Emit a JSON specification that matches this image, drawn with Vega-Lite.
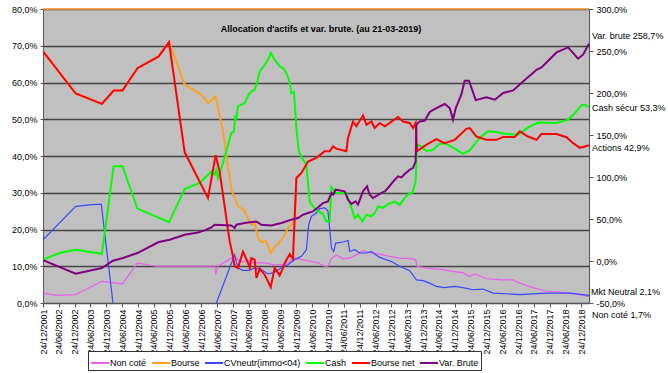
{
 "$schema": "https://vega.github.io/schema/vega-lite/v6.json",
 "width": 546, "height": 294,
 "autosize": {"type": "none"},
 "padding": {"left": 43, "top": 9, "right": 79, "bottom": 70},
 "background": "white",
 "config": {
  "view": {"fill": "#C0C0C0", "stroke": null},
  "font": "Liberation Sans",
  "axis": {"labelFont": "Liberation Sans", "labelFontSize": 9, "labelColor": "#000", "domainColor": "#555", "tickColor": "#555"},
  "text": {"font": "Liberation Sans", "fontSize": 9}
 },
 "title": {"text": "Allocation d'actifs et var. brute. (au 21-03-2019)", "font": "Liberation Sans", "fontSize": 9, "fontWeight": "bold", "color": "#000", "anchor": "middle", "frame": "group", "offset": -29, "dx": 5},
 "datasets": {
  "main": [
   {"s":"Non coté","d":"2001-12-24","v":2.7},{"s":"Non coté","d":"2002-05-27","v":2.1},{"s":"Non coté","d":"2003-01-05","v":2.3},{"s":"Non coté","d":"2003-11-03","v":5.9},{"s":"Non coté","d":"2004-06-27","v":5.2},{"s":"Non coté","d":"2004-12-17","v":10.9},{"s":"Non coté","d":"2005-07-23","v":10.0},{"s":"Non coté","d":"2006-08-11","v":10.0},{"s":"Non coté","d":"2007-05-26","v":10.0},{"s":"Non coté","d":"2007-06-07","v":7.7},{"s":"Non coté","d":"2007-07-03","v":10.0},{"s":"Non coté","d":"2007-12-05","v":12.2},{"s":"Non coté","d":"2008-01-12","v":12.4},{"s":"Non coté","d":"2008-03-30","v":11.2},{"s":"Non coté","d":"2008-06-14","v":11.5},{"s":"Non coté","d":"2008-08-30","v":10.9},{"s":"Non coté","d":"2008-12-24","v":10.9},{"s":"Non coté","d":"2009-04-17","v":10.4},{"s":"Non coté","d":"2009-08-11","v":10.4},{"s":"Non coté","d":"2009-12-04","v":12.2},{"s":"Non coté","d":"2010-02-20","v":11.8},{"s":"Non coté","d":"2010-06-15","v":11.3},{"s":"Non coté","d":"2010-08-29","v":10.9},{"s":"Non coté","d":"2010-11-15","v":10.0},{"s":"Non coté","d":"2010-12-23","v":10.0},{"s":"Non coté","d":"2011-02-01","v":12.2},{"s":"Non coté","d":"2011-03-30","v":13.0},{"s":"Non coté","d":"2011-06-14","v":12.1},{"s":"Non coté","d":"2011-08-30","v":12.2},{"s":"Non coté","d":"2011-11-15","v":13.1},{"s":"Non coté","d":"2012-01-31","v":14.2},{"s":"Non coté","d":"2012-05-07","v":13.6},{"s":"Non coté","d":"2012-08-11","v":13.3},{"s":"Non coté","d":"2012-12-04","v":12.7},{"s":"Non coté","d":"2013-03-29","v":12.2},{"s":"Non coté","d":"2013-07-23","v":12.1},{"s":"Non coté","d":"2013-09-29","v":11.8},{"s":"Non coté","d":"2013-10-15","v":10.0},{"s":"Non coté","d":"2014-02-01","v":9.5},{"s":"Non coté","d":"2014-08-11","v":9.1},{"s":"Non coté","d":"2014-12-04","v":8.6},{"s":"Non coté","d":"2015-03-29","v":8.2},{"s":"Non coté","d":"2015-06-15","v":7.2},{"s":"Non coté","d":"2015-08-11","v":7.9},{"s":"Non coté","d":"2015-12-25","v":6.6},{"s":"Non coté","d":"2016-06-16","v":6.3},{"s":"Non coté","d":"2016-10-27","v":6.3},{"s":"Non coté","d":"2017-01-12","v":5.4},{"s":"Non coté","d":"2017-06-14","v":4.2},{"s":"Non coté","d":"2017-11-16","v":3.2},{"s":"Non coté","d":"2018-04-18","v":3.0},{"s":"Non coté","d":"2018-10-28","v":2.4},{"s":"Non coté","d":"2019-03-21","v":1.7},
   {"s":"Bourse","d":"2001-12-24","v":68.5},{"s":"Bourse","d":"2003-01-05","v":57.0},{"s":"Bourse","d":"2003-11-03","v":54.2},{"s":"Bourse","d":"2004-03-17","v":57.8},{"s":"Bourse","d":"2004-06-27","v":57.8},{"s":"Bourse","d":"2004-12-17","v":63.9},{"s":"Bourse","d":"2005-08-19","v":67.1},{"s":"Bourse","d":"2005-12-16","v":71.0},{"s":"Bourse","d":"2006-06-15","v":59.4},{"s":"Bourse","d":"2006-12-24","v":56.7},{"s":"Bourse","d":"2007-03-10","v":54.4},{"s":"Bourse","d":"2007-06-07","v":56.2},{"s":"Bourse","d":"2007-08-30","v":46.7},{"s":"Bourse","d":"2007-12-05","v":30.8},{"s":"Bourse","d":"2008-01-12","v":28.6},{"s":"Bourse","d":"2008-02-19","v":26.3},{"s":"Bourse","d":"2008-04-29","v":25.2},{"s":"Bourse","d":"2008-06-14","v":23.1},{"s":"Bourse","d":"2008-07-23","v":21.3},{"s":"Bourse","d":"2008-08-30","v":21.8},{"s":"Bourse","d":"2008-10-07","v":17.7},{"s":"Bourse","d":"2008-11-15","v":16.6},{"s":"Bourse","d":"2009-01-12","v":16.8},{"s":"Bourse","d":"2009-03-03","v":13.6},{"s":"Bourse","d":"2009-04-17","v":15.4},{"s":"Bourse","d":"2009-05-25","v":16.0},{"s":"Bourse","d":"2009-07-04","v":17.2},{"s":"Bourse","d":"2009-08-11","v":18.6},{"s":"Bourse","d":"2009-09-18","v":20.4},{"s":"Bourse","d":"2009-10-27","v":21.3},{"s":"Bourse","d":"2009-11-26","v":22.2},{"s":"Bourse","d":"2009-12-24","v":34.0},{"s":"Bourse","d":"2010-02-20","v":35.4},
   {"s":"CVneutr(immo<04)","d":"2001-12-24","v":17.2},{"s":"CVneutr(immo<04)","d":"2002-07-03","v":21.8},{"s":"CVneutr(immo<04)","d":"2003-01-05","v":26.3},{"s":"CVneutr(immo<04)","d":"2003-06-15","v":26.7},{"s":"CVneutr(immo<04)","d":"2003-10-27","v":26.9},{"s":"CVneutr(immo<04)","d":"2004-06-27","v":-21.8},{"s":"CVneutr(immo<04)","d":"2005-06-24","v":-20},{"s":"CVneutr(immo<04)","d":"2006-06-24","v":-15},{"s":"CVneutr(immo<04)","d":"2007-03-10","v":-6.0},{"s":"CVneutr(immo<04)","d":"2008-01-12","v":13.1},{"s":"CVneutr(immo<04)","d":"2008-02-19","v":9.5},{"s":"CVneutr(immo<04)","d":"2008-04-17","v":8.9},{"s":"CVneutr(immo<04)","d":"2008-06-14","v":8.9},{"s":"CVneutr(immo<04)","d":"2008-08-30","v":9.5},{"s":"CVneutr(immo<04)","d":"2008-11-15","v":9.1},{"s":"CVneutr(immo<04)","d":"2009-01-31","v":7.9},{"s":"CVneutr(immo<04)","d":"2009-03-29","v":8.2},{"s":"CVneutr(immo<04)","d":"2009-07-04","v":9.5},{"s":"CVneutr(immo<04)","d":"2009-09-18","v":10.4},{"s":"CVneutr(immo<04)","d":"2009-12-04","v":11.8},{"s":"CVneutr(immo<04)","d":"2010-02-20","v":12.7},{"s":"CVneutr(immo<04)","d":"2010-04-18","v":14.5},{"s":"CVneutr(immo<04)","d":"2010-05-15","v":21.3},{"s":"CVneutr(immo<04)","d":"2010-06-15","v":23.6},{"s":"CVneutr(immo<04)","d":"2010-08-11","v":24.5},{"s":"CVneutr(immo<04)","d":"2010-09-18","v":25.7},{"s":"CVneutr(immo<04)","d":"2010-11-15","v":25.9},{"s":"CVneutr(immo<04)","d":"2010-12-23","v":25.0},{"s":"CVneutr(immo<04)","d":"2011-01-12","v":20.0},{"s":"CVneutr(immo<04)","d":"2011-02-01","v":15.0},{"s":"CVneutr(immo<04)","d":"2011-02-27","v":14.0},{"s":"CVneutr(immo<04)","d":"2011-03-22","v":16.3},{"s":"CVneutr(immo<04)","d":"2011-06-14","v":16.6},{"s":"CVneutr(immo<04)","d":"2011-08-11","v":17.0},{"s":"CVneutr(immo<04)","d":"2011-08-30","v":14.0},{"s":"CVneutr(immo<04)","d":"2011-10-27","v":14.5},{"s":"CVneutr(immo<04)","d":"2011-12-24","v":13.6},{"s":"CVneutr(immo<04)","d":"2012-03-11","v":13.6},{"s":"CVneutr(immo<04)","d":"2012-05-07","v":14.0},{"s":"CVneutr(immo<04)","d":"2012-08-11","v":12.4},{"s":"CVneutr(immo<04)","d":"2012-12-24","v":11.3},{"s":"CVneutr(immo<04)","d":"2013-03-29","v":10.0},{"s":"CVneutr(immo<04)","d":"2013-07-23","v":8.8},{"s":"CVneutr(immo<04)","d":"2013-10-08","v":6.3},{"s":"CVneutr(immo<04)","d":"2013-12-23","v":6.1},{"s":"CVneutr(immo<04)","d":"2014-03-10","v":5.4},{"s":"CVneutr(immo<04)","d":"2014-05-26","v":4.5},{"s":"CVneutr(immo<04)","d":"2014-08-30","v":4.2},{"s":"CVneutr(immo<04)","d":"2014-12-24","v":4.5},{"s":"CVneutr(immo<04)","d":"2015-03-29","v":4.2},{"s":"CVneutr(immo<04)","d":"2015-07-23","v":3.6},{"s":"CVneutr(immo<04)","d":"2015-11-15","v":3.8},{"s":"CVneutr(immo<04)","d":"2016-03-10","v":2.7},{"s":"CVneutr(immo<04)","d":"2017-01-12","v":2.3},{"s":"CVneutr(immo<04)","d":"2017-11-16","v":2.7},{"s":"CVneutr(immo<04)","d":"2018-08-11","v":2.7},{"s":"CVneutr(immo<04)","d":"2019-03-21","v":2.1},
   {"s":"Cash","d":"2001-12-24","v":11.8},{"s":"Cash","d":"2002-07-03","v":13.6},{"s":"Cash","d":"2003-01-05","v":14.5},{"s":"Cash","d":"2003-11-03","v":13.4},{"s":"Cash","d":"2004-03-17","v":37.2},{"s":"Cash","d":"2004-06-27","v":37.2},{"s":"Cash","d":"2004-12-17","v":25.7},{"s":"Cash","d":"2005-12-16","v":22.0},{"s":"Cash","d":"2006-06-15","v":31.0},{"s":"Cash","d":"2006-12-04","v":32.7},{"s":"Cash","d":"2007-04-18","v":35.8},{"s":"Cash","d":"2007-05-26","v":34.9},{"s":"Cash","d":"2007-06-15","v":36.3},{"s":"Cash","d":"2007-07-03","v":34.0},{"s":"Cash","d":"2007-08-11","v":36.7},{"s":"Cash","d":"2007-10-08","v":41.3},{"s":"Cash","d":"2007-12-05","v":46.3},{"s":"Cash","d":"2008-01-04","v":46.7},{"s":"Cash","d":"2008-01-20","v":51.2},{"s":"Cash","d":"2008-02-01","v":49.9},{"s":"Cash","d":"2008-02-19","v":53.5},{"s":"Cash","d":"2008-03-30","v":54.0},{"s":"Cash","d":"2008-05-07","v":54.4},{"s":"Cash","d":"2008-06-22","v":56.7},{"s":"Cash","d":"2008-07-23","v":57.6},{"s":"Cash","d":"2008-08-30","v":58.0},{"s":"Cash","d":"2008-09-30","v":60.3},{"s":"Cash","d":"2008-10-27","v":63.0},{"s":"Cash","d":"2008-12-24","v":64.8},{"s":"Cash","d":"2009-01-31","v":66.2},{"s":"Cash","d":"2009-03-03","v":68.0},{"s":"Cash","d":"2009-04-17","v":66.2},{"s":"Cash","d":"2009-06-14","v":64.4},{"s":"Cash","d":"2009-07-22","v":63.9},{"s":"Cash","d":"2009-08-31","v":62.6},{"s":"Cash","d":"2009-10-08","v":60.1},{"s":"Cash","d":"2009-10-27","v":57.1},{"s":"Cash","d":"2009-11-26","v":57.4},{"s":"Cash","d":"2009-12-24","v":47.6},{"s":"Cash","d":"2010-01-20","v":41.3},{"s":"Cash","d":"2010-03-10","v":39.0},{"s":"Cash","d":"2010-04-18","v":37.6},{"s":"Cash","d":"2010-05-26","v":27.6},{"s":"Cash","d":"2010-07-03","v":26.3},{"s":"Cash","d":"2010-08-29","v":24.9},{"s":"Cash","d":"2010-10-26","v":24.2},{"s":"Cash","d":"2010-12-04","v":22.2},{"s":"Cash","d":"2011-01-12","v":22.2},{"s":"Cash","d":"2011-02-01","v":31.5},{"s":"Cash","d":"2011-03-30","v":29.9},{"s":"Cash","d":"2011-07-23","v":29.9},{"s":"Cash","d":"2011-09-19","v":25.9},{"s":"Cash","d":"2011-10-27","v":23.1},{"s":"Cash","d":"2011-12-04","v":24.0},{"s":"Cash","d":"2012-01-24","v":22.2},{"s":"Cash","d":"2012-03-11","v":24.0},{"s":"Cash","d":"2012-05-07","v":23.6},{"s":"Cash","d":"2012-06-14","v":24.5},{"s":"Cash","d":"2012-07-22","v":26.3},{"s":"Cash","d":"2012-09-18","v":25.9},{"s":"Cash","d":"2012-11-14","v":26.9},{"s":"Cash","d":"2013-02-01","v":27.6},{"s":"Cash","d":"2013-03-29","v":26.7},{"s":"Cash","d":"2013-05-26","v":28.6},{"s":"Cash","d":"2013-07-23","v":29.9},{"s":"Cash","d":"2013-08-23","v":29.9},{"s":"Cash","d":"2013-09-29","v":33.1},{"s":"Cash","d":"2013-10-15","v":43.1},{"s":"Cash","d":"2013-12-04","v":42.6},{"s":"Cash","d":"2014-02-01","v":41.3},{"s":"Cash","d":"2014-04-17","v":41.7},{"s":"Cash","d":"2014-07-03","v":43.3},{"s":"Cash","d":"2014-08-30","v":43.5},{"s":"Cash","d":"2014-12-24","v":42.0},{"s":"Cash","d":"2015-03-29","v":40.6},{"s":"Cash","d":"2015-06-15","v":41.5},{"s":"Cash","d":"2015-10-08","v":45.0},{"s":"Cash","d":"2016-01-12","v":46.7},{"s":"Cash","d":"2016-04-18","v":46.5},{"s":"Cash","d":"2016-07-04","v":46.1},{"s":"Cash","d":"2016-12-24","v":45.8},{"s":"Cash","d":"2017-04-17","v":47.8},{"s":"Cash","d":"2017-08-11","v":49.1},{"s":"Cash","d":"2018-03-11","v":49.0},{"s":"Cash","d":"2018-07-23","v":49.9},{"s":"Cash","d":"2018-10-09","v":51.7},{"s":"Cash","d":"2018-12-24","v":53.8},{"s":"Cash","d":"2019-01-30","v":54.0},{"s":"Cash","d":"2019-03-21","v":53.3},
   {"s":"Bourse net","d":"2001-12-24","v":68.5},{"s":"Bourse net","d":"2003-01-05","v":57.0},{"s":"Bourse net","d":"2003-11-03","v":54.2},{"s":"Bourse net","d":"2004-03-17","v":57.8},{"s":"Bourse net","d":"2004-06-27","v":57.8},{"s":"Bourse net","d":"2004-12-17","v":63.9},{"s":"Bourse net","d":"2005-08-19","v":67.1},{"s":"Bourse net","d":"2005-12-16","v":71.0},{"s":"Bourse net","d":"2006-06-15","v":41.0},{"s":"Bourse net","d":"2007-03-10","v":28.6},{"s":"Bourse net","d":"2007-06-07","v":40.2},{"s":"Bourse net","d":"2007-07-23","v":35.8},{"s":"Bourse net","d":"2007-11-15","v":16.8},{"s":"Bourse net","d":"2007-12-24","v":12.7},{"s":"Bourse net","d":"2008-01-12","v":10.0},{"s":"Bourse net","d":"2008-02-19","v":9.5},{"s":"Bourse net","d":"2008-04-17","v":14.0},{"s":"Bourse net","d":"2008-06-14","v":10.9},{"s":"Bourse net","d":"2008-07-03","v":9.6},{"s":"Bourse net","d":"2008-07-23","v":12.2},{"s":"Bourse net","d":"2008-08-30","v":11.8},{"s":"Bourse net","d":"2008-09-19","v":6.8},{"s":"Bourse net","d":"2008-10-27","v":9.3},{"s":"Bourse net","d":"2008-12-24","v":7.7},{"s":"Bourse net","d":"2009-03-03","v":4.3},{"s":"Bourse net","d":"2009-04-17","v":9.5},{"s":"Bourse net","d":"2009-06-14","v":7.5},{"s":"Bourse net","d":"2009-07-22","v":9.5},{"s":"Bourse net","d":"2009-08-11","v":10.9},{"s":"Bourse net","d":"2009-10-08","v":13.3},{"s":"Bourse net","d":"2009-11-14","v":12.0},{"s":"Bourse net","d":"2009-12-04","v":23.1},{"s":"Bourse net","d":"2009-12-24","v":34.0},{"s":"Bourse net","d":"2010-02-20","v":35.4},{"s":"Bourse net","d":"2010-05-07","v":38.5},{"s":"Bourse net","d":"2010-08-11","v":39.5},{"s":"Bourse net","d":"2010-11-15","v":41.3},{"s":"Bourse net","d":"2011-01-12","v":41.3},{"s":"Bourse net","d":"2011-02-19","v":42.6},{"s":"Bourse net","d":"2011-03-30","v":42.0},{"s":"Bourse net","d":"2011-07-23","v":41.3},{"s":"Bourse net","d":"2011-08-11","v":44.9},{"s":"Bourse net","d":"2011-10-07","v":49.4},{"s":"Bourse net","d":"2011-11-15","v":48.1},{"s":"Bourse net","d":"2012-01-31","v":51.0},{"s":"Bourse net","d":"2012-03-11","v":48.5},{"s":"Bourse net","d":"2012-05-07","v":49.4},{"s":"Bourse net","d":"2012-06-14","v":47.6},{"s":"Bourse net","d":"2012-08-11","v":49.0},{"s":"Bourse net","d":"2012-10-08","v":48.1},{"s":"Bourse net","d":"2012-12-04","v":49.0},{"s":"Bourse net","d":"2013-03-10","v":50.6},{"s":"Bourse net","d":"2013-05-07","v":49.4},{"s":"Bourse net","d":"2013-07-23","v":49.0},{"s":"Bourse net","d":"2013-08-29","v":47.6},{"s":"Bourse net","d":"2013-09-29","v":49.0},{"s":"Bourse net","d":"2013-10-15","v":41.3},{"s":"Bourse net","d":"2014-02-01","v":43.1},{"s":"Bourse net","d":"2014-05-26","v":44.6},{"s":"Bourse net","d":"2014-08-30","v":43.5},{"s":"Bourse net","d":"2014-12-24","v":44.4},{"s":"Bourse net","d":"2015-05-07","v":47.4},{"s":"Bourse net","d":"2015-06-15","v":47.6},{"s":"Bourse net","d":"2015-08-31","v":45.3},{"s":"Bourse net","d":"2015-12-25","v":44.4},{"s":"Bourse net","d":"2016-04-18","v":44.4},{"s":"Bourse net","d":"2016-07-04","v":45.2},{"s":"Bourse net","d":"2016-11-15","v":45.2},{"s":"Bourse net","d":"2017-01-12","v":46.7},{"s":"Bourse net","d":"2017-04-17","v":45.3},{"s":"Bourse net","d":"2017-07-24","v":44.4},{"s":"Bourse net","d":"2017-09-19","v":46.0},{"s":"Bourse net","d":"2018-03-11","v":46.0},{"s":"Bourse net","d":"2018-07-04","v":45.1},{"s":"Bourse net","d":"2018-09-19","v":43.5},{"s":"Bourse net","d":"2018-12-05","v":42.2},{"s":"Bourse net","d":"2019-01-30","v":42.6},{"s":"Bourse net","d":"2019-03-21","v":42.9}
  ],
  "vb": [
   {"s":"Var. Brute","d":"2001-12-24","v":1.0},{"s":"Var. Brute","d":"2003-01-05","v":-15.1},{"s":"Var. Brute","d":"2003-11-03","v":-8.3},{"s":"Var. Brute","d":"2004-03-09","v":0.4},{"s":"Var. Brute","d":"2004-07-03","v":3.6},{"s":"Var. Brute","d":"2004-12-17","v":9.5},{"s":"Var. Brute","d":"2005-08-19","v":22.6},{"s":"Var. Brute","d":"2005-12-24","v":25.4},{"s":"Var. Brute","d":"2006-06-15","v":31.3},{"s":"Var. Brute","d":"2006-11-14","v":34.0},{"s":"Var. Brute","d":"2007-02-01","v":36.4},{"s":"Var. Brute","d":"2007-04-18","v":40.0},{"s":"Var. Brute","d":"2007-05-26","v":43.2},{"s":"Var. Brute","d":"2007-12-05","v":42.4},{"s":"Var. Brute","d":"2008-01-12","v":39.3},{"s":"Var. Brute","d":"2008-02-01","v":43.2},{"s":"Var. Brute","d":"2008-05-07","v":45.2},{"s":"Var. Brute","d":"2008-09-19","v":47.1},{"s":"Var. Brute","d":"2008-11-15","v":43.2},{"s":"Var. Brute","d":"2009-03-11","v":42.4},{"s":"Var. Brute","d":"2009-07-04","v":45.2},{"s":"Var. Brute","d":"2009-10-27","v":49.2},{"s":"Var. Brute","d":"2010-01-12","v":51.2},{"s":"Var. Brute","d":"2010-03-10","v":55.1},{"s":"Var. Brute","d":"2010-05-07","v":57.1},{"s":"Var. Brute","d":"2010-07-03","v":59.0},{"s":"Var. Brute","d":"2010-08-29","v":63.8},{"s":"Var. Brute","d":"2010-10-26","v":69.0},{"s":"Var. Brute","d":"2010-12-23","v":71.0},{"s":"Var. Brute","d":"2011-02-01","v":81.0},{"s":"Var. Brute","d":"2011-02-19","v":78.9},{"s":"Var. Brute","d":"2011-03-22","v":84.9},{"s":"Var. Brute","d":"2011-07-04","v":82.9},{"s":"Var. Brute","d":"2011-08-11","v":73.0},{"s":"Var. Brute","d":"2011-09-19","v":67.9},{"s":"Var. Brute","d":"2011-11-07","v":71.0},{"s":"Var. Brute","d":"2011-12-04","v":67.0},{"s":"Var. Brute","d":"2012-01-31","v":82.9},{"s":"Var. Brute","d":"2012-03-17","v":88.8},{"s":"Var. Brute","d":"2012-04-17","v":78.9},{"s":"Var. Brute","d":"2012-05-25","v":75.0},{"s":"Var. Brute","d":"2012-08-11","v":79.8},{"s":"Var. Brute","d":"2012-10-08","v":82.9},{"s":"Var. Brute","d":"2012-11-14","v":86.9},{"s":"Var. Brute","d":"2013-02-01","v":96.8},{"s":"Var. Brute","d":"2013-03-10","v":100.7},{"s":"Var. Brute","d":"2013-04-18","v":99.5},{"s":"Var. Brute","d":"2013-05-26","v":103.6},{"s":"Var. Brute","d":"2013-07-23","v":108.7},{"s":"Var. Brute","d":"2013-08-29","v":110.7},{"s":"Var. Brute","d":"2013-09-29","v":118.6},{"s":"Var. Brute","d":"2013-10-08","v":162.3},{"s":"Var. Brute","d":"2013-11-14","v":166.2},{"s":"Var. Brute","d":"2014-01-12","v":167.0},{"s":"Var. Brute","d":"2014-03-10","v":177.4},{"s":"Var. Brute","d":"2014-05-26","v":182.1},{"s":"Var. Brute","d":"2014-08-30","v":186.9},{"s":"Var. Brute","d":"2014-10-27","v":182.1},{"s":"Var. Brute","d":"2014-12-04","v":168.2},{"s":"Var. Brute","d":"2015-01-05","v":182.1},{"s":"Var. Brute","d":"2015-03-10","v":198.0},{"s":"Var. Brute","d":"2015-04-17","v":214.6},{"s":"Var. Brute","d":"2015-06-06","v":214.6},{"s":"Var. Brute","d":"2015-08-23","v":191.5},{"s":"Var. Brute","d":"2015-12-25","v":194.8},{"s":"Var. Brute","d":"2016-03-30","v":192.0},{"s":"Var. Brute","d":"2016-07-04","v":200.0},{"s":"Var. Brute","d":"2016-10-27","v":203.1},{"s":"Var. Brute","d":"2017-02-19","v":213.8},{"s":"Var. Brute","d":"2017-07-24","v":227.7},{"s":"Var. Brute","d":"2017-09-19","v":230.5},{"s":"Var. Brute","d":"2018-03-11","v":248.3},{"s":"Var. Brute","d":"2018-07-23","v":254.3},{"s":"Var. Brute","d":"2018-11-15","v":240.8},{"s":"Var. Brute","d":"2019-01-11","v":245.6},{"s":"Var. Brute","d":"2019-03-21","v":258.7}
  ]
 },
 "encoding": {
  "x": {"field": "d", "type": "temporal", "title": null,
    "scale": {"type": "utc", "nice": false, "domain": [{"year": 2001, "month": 12, "date": 24, "utc": true}, {"year": 2019, "month": 3, "date": 21, "utc": true}]},
    "axis": {"labelExpr": "utcFormat(datum.value, '%d/%m/%Y')", "labelAngle": -90, "labelOverlap": false, "labelFlush": false, "labelBound": false, "tickSize": 4, "labelPadding": 2, "grid": false,
      "values": [
       {"year":2001,"month":12,"date":24,"utc":true},{"year":2002,"month":6,"date":24,"utc":true},{"year":2002,"month":12,"date":24,"utc":true},{"year":2003,"month":6,"date":24,"utc":true},{"year":2003,"month":12,"date":24,"utc":true},{"year":2004,"month":6,"date":24,"utc":true},{"year":2004,"month":12,"date":24,"utc":true},{"year":2005,"month":6,"date":24,"utc":true},{"year":2005,"month":12,"date":24,"utc":true},{"year":2006,"month":6,"date":24,"utc":true},{"year":2006,"month":12,"date":24,"utc":true},{"year":2007,"month":6,"date":24,"utc":true},{"year":2007,"month":12,"date":24,"utc":true},{"year":2008,"month":6,"date":24,"utc":true},{"year":2008,"month":12,"date":24,"utc":true},{"year":2009,"month":6,"date":24,"utc":true},{"year":2009,"month":12,"date":24,"utc":true},{"year":2010,"month":6,"date":24,"utc":true},{"year":2010,"month":12,"date":24,"utc":true},{"year":2011,"month":6,"date":24,"utc":true},{"year":2011,"month":12,"date":24,"utc":true},{"year":2012,"month":6,"date":24,"utc":true},{"year":2012,"month":12,"date":24,"utc":true},{"year":2013,"month":6,"date":24,"utc":true},{"year":2013,"month":12,"date":24,"utc":true},{"year":2014,"month":6,"date":24,"utc":true},{"year":2014,"month":12,"date":24,"utc":true},{"year":2015,"month":6,"date":24,"utc":true},{"year":2015,"month":12,"date":24,"utc":true},{"year":2016,"month":6,"date":24,"utc":true},{"year":2016,"month":12,"date":24,"utc":true},{"year":2017,"month":6,"date":24,"utc":true},{"year":2017,"month":12,"date":24,"utc":true},{"year":2018,"month":6,"date":24,"utc":true},{"year":2018,"month":12,"date":24,"utc":true}
      ]}}
 },
 "layer": [
  {
   "encoding": {
    "y": {"field": "v", "type": "quantitative", "title": null,
      "scale": {"domain": [0, 80], "nice": false, "zero": false},
      "axis": {"values": [0,10,20,30,40,50,60,70,80], "labelExpr": "replace(format(datum.value/100, '.1%'), '.', ',')", "grid": true, "gridColor": "#454545", "gridWidth": 1.3, "tickSize": 3, "labelPadding": 3}}
   },
   "layer": [
    {
     "data": {"values": [{"d": "2001-12-24", "d2": "2019-03-21", "v": 80}]},
     "mark": {"type": "rule", "color": "#FF9933", "strokeWidth": 1.5},
     "encoding": {"x2": {"field": "d2"}}
    },
    {
     "data": {"name": "main"},
     "mark": {"type": "line", "clip": true},
     "encoding": {
      "color": {"field": "s", "type": "nominal",
        "scale": {"domain": ["Non coté", "Bourse", "CVneutr(immo<04)", "Cash", "Bourse net", "Var. Brute"], "range": ["#EE5CEE", "#FFA020", "#3A46FF", "#00FF00", "#FF0000", "#800080"]},
        "legend": {"orient": "none", "legendX": 45, "legendY": 342, "direction": "horizontal", "title": null, "strokeColor": "#333", "fillColor": "#FFFFFF", "padding": 2, "gridAlign": "none", "labelFont": "Liberation Sans", "labelFontSize": 9, "labelColor": "#000", "symbolType": "stroke", "symbolSize": 324, "symbolStrokeWidth": 2, "labelOffset": 0, "columnPadding": 1}},
      "strokeWidth": {"condition": {"test": "datum.s === 'Non coté' || datum.s === 'CVneutr(immo<04)'", "value": 1.2}, "value": 2}
     }
    },
    {
     "data": {"values": [{"d": "2019-03-21", "v": 53.3, "t": "Cash sécur 53,3%"}]},
     "mark": {"type": "text", "align": "left", "baseline": "middle", "dx": 3, "dy": 1, "fontSize": 9, "color": "#000"},
     "encoding": {"text": {"field": "t"}}
    },
    {
     "data": {"values": [{"d": "2019-03-21", "v": 42.9, "t": "Actions 42,9%"}]},
     "mark": {"type": "text", "align": "left", "baseline": "middle", "dx": 3, "dy": 3, "fontSize": 9, "color": "#000"},
     "encoding": {"text": {"field": "t"}}
    },
    {
     "data": {"values": [{"d": "2019-03-21", "v": 2.1, "t": "Mkt Neutral 2,1%"}]},
     "mark": {"type": "text", "align": "left", "baseline": "middle", "dx": 2, "dy": -3, "fontSize": 9, "color": "#000"},
     "encoding": {"text": {"field": "t"}}
    },
    {
     "data": {"values": [{"d": "2019-03-21", "v": 1.7, "t": "Non coté 1,7%"}]},
     "mark": {"type": "text", "align": "left", "baseline": "middle", "dx": 3, "dy": 18, "fontSize": 9, "color": "#000"},
     "encoding": {"text": {"field": "t"}}
    }
   ]
  },
  {
   "encoding": {
    "y": {"field": "v", "type": "quantitative", "title": null,
      "scale": {"domain": [-50, 300], "nice": false, "zero": false},
      "axis": {"orient": "right", "values": [-50,0,50,100,150,200,250,300], "labelExpr": "replace(replace(format(datum.value/100, '.1%'), '.', ','), '−', '-')", "grid": false, "tickSize": 4, "labelPadding": 3}}
   },
   "layer": [
    {
     "data": {"name": "vb"},
     "mark": {"type": "line", "strokeWidth": 2},
     "encoding": {"color": {"field": "s", "type": "nominal"}}
    },
    {
     "data": {"values": [{"d": "2019-03-21", "v": 258.7, "t": "Var. brute 258,7%"}]},
     "mark": {"type": "text", "align": "left", "baseline": "middle", "dx": 3, "dy": -8, "fontSize": 9, "color": "#000"},
     "encoding": {"text": {"field": "t"}}
    }
   ]
  }
 ],
 "resolve": {"scale": {"y": "independent"}}
}
